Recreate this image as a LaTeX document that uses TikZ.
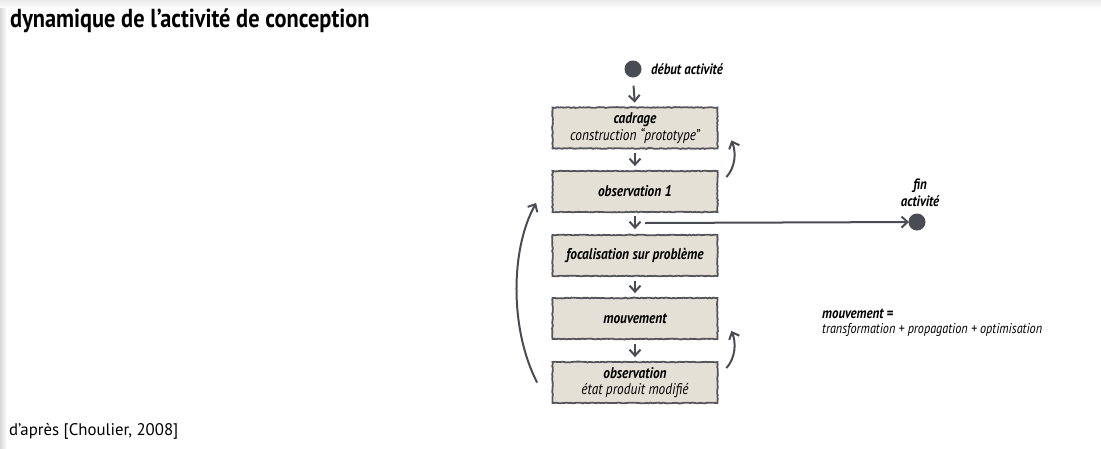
\documentclass[tikz,border=0pt]{standalone}
\usepackage{fontspec}
\setmainfont{PT Sans}
\newfontfamily\cond[FakeStretch=0.86]{PT Sans}
\usetikzlibrary{arrows.meta,decorations.pathmorphing}
\definecolor{arrc}{HTML}{4A4C55}
\definecolor{boxfill}{HTML}{E4E0D5}
\definecolor{boxline}{HTML}{55565B}
\tikzset{
  stepbox/.style={draw=boxline, line width=1.8pt, fill=boxfill, minimum width=165pt, minimum height=41pt, inner sep=1pt, align=center, font=\cond\fontsize{15.5}{15.5}\selectfont,
    decorate, decoration={random steps, segment length=2pt, amplitude=0.4pt}},
  arr/.style={draw=arrc, line width=2pt, -{Straight Barb[length=6pt,width=11pt,line width=2pt]}},
  dot/.style={circle, fill=arrc, minimum size=17pt, inner sep=0pt},
  lbl/.style={font=\cond\fontsize{15}{17}\selectfont\bfseries\itshape, inner sep=0pt}
}
\begin{document}
\begin{tikzpicture}[x=1pt,y=-1pt]
\useasboundingbox (0,0) rectangle (1101,448);
\fill[white] (0,0) rectangle (1101,448);
\shade[top color=gray!15, bottom color=white] (0,0) rectangle (1101,9);
\shade[left color=gray!30, right color=white] (0,8) rectangle (7,448);

\node[anchor=west, inner sep=0pt, font=\cond\fontsize{26}{28}\selectfont\bfseries] (title) at (10,21) {dynamique de l’activité de conception};
\node[anchor=west, inner sep=0pt, font=\fontsize{16.8}{19}\selectfont] (src) at (9,431) {d’après [Choulier, 2008]};

\node[dot] (start) at (633,69) {};
\node[lbl, anchor=west] (startlbl) at (651,69) {début activité};

\node[stepbox] (cad) at (635,128) {{\bfseries\itshape cadrage}\\[1pt]{\itshape construction “prototype”}};
\node[stepbox] (obs1) at (635,191.5) {\bfseries\itshape observation 1};
\node[stepbox] (foc) at (635,255.5) {\bfseries\itshape focalisation sur problème};
\node[stepbox] (mouv) at (635,318.5) {\bfseries\itshape mouvement};
\node[stepbox] (obs) at (635,382.5) {{\bfseries\itshape observation}\\[1pt]{\itshape état produit modifié}};

\node[dot] (fin) at (917,222) {};
\node[lbl, align=center] (finlbl) at (920,193) {fin\\activité};

\node[lbl, anchor=west] (mv) at (822,314) {mouvement =};
\node[anchor=west, inner sep=0pt, font=\cond\fontsize{14.2}{16}\selectfont\itshape] (mvdef) at (822,330) {transformation + propagation + optimisation};

\draw[arr, shorten <=8pt, shorten >=4pt] (start.south) -- (cad.north);
\draw[arr, shorten <=4pt, shorten >=4pt] (cad.south) -- (obs1.north);
\draw[arr, shorten <=3pt, shorten >=5pt] (obs1.south) -- (foc.north);
\draw[arr, shorten <=4pt, shorten >=4pt] (foc.south) -- (mouv.north);
\draw[arr, shorten <=4pt, shorten >=4pt] (mouv.south) -- (obs.north);

\coordinate (split) at (645,223);
\draw[arr, shorten >=8pt] (split) -- (fin.center);

\draw[arr] ([shift={(8,7)}]obs1.north east) .. controls +(9,-10) and +(5,12) .. ([shift={(13,-9)}]cad.south east);
\draw[arr] ([shift={(8,7)}]obs.north east) .. controls +(9,-10) and +(5,12) .. ([shift={(13,-9)}]mouv.south east);
\draw[arr] ([shift={(-14.5,0)}]obs.west) .. controls (510,330) and (510,250) .. ([shift={(-15.5,11.5)}]obs1.west);
\end{tikzpicture}
\end{document}
